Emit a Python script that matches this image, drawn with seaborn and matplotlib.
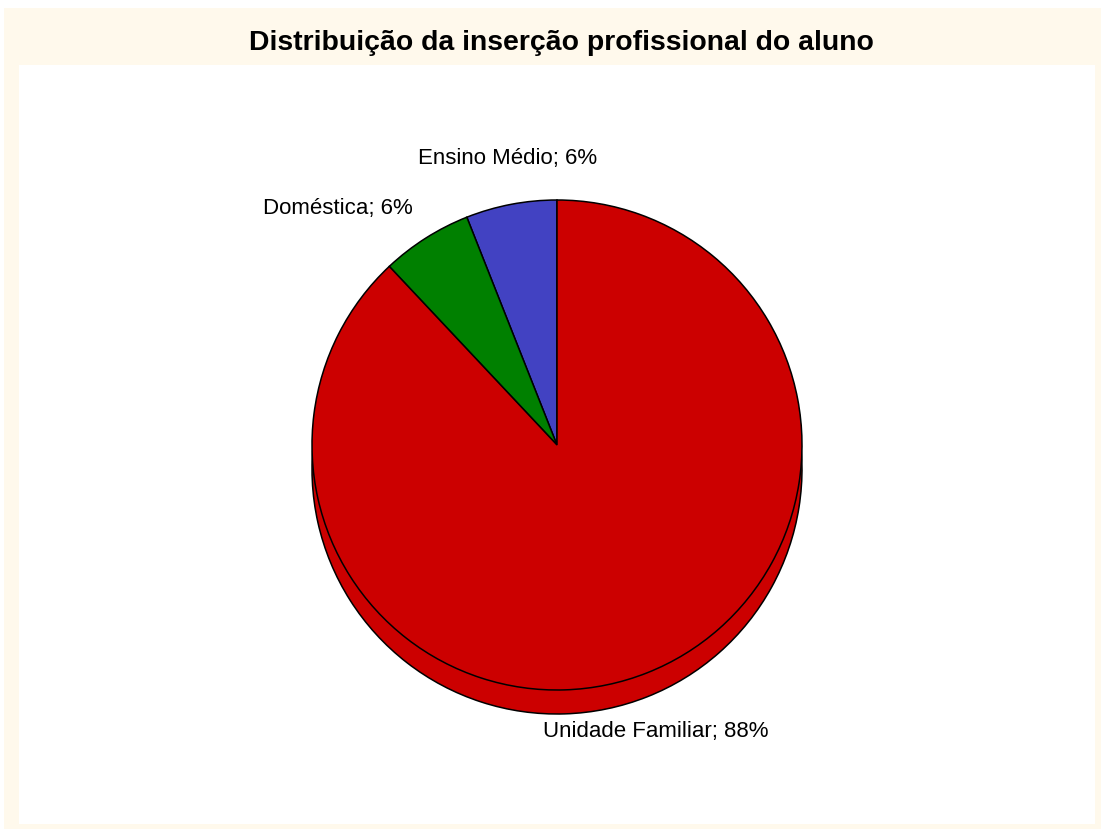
import seaborn as sns
import matplotlib.pyplot as plt
import numpy as np
from matplotlib.patches import Rectangle

# Data
categories = ["Unidade Familiar", "Doméstica", "Ensino Médio"]
shares = [88, 6, 6]
slice_colors = ["#CC0000", "#008000", "#4242C2"]
# label offsets (pixels) from the rim point at each slice's mid-angle
label_offsets = [(9, -59), (-88, 30), (-4, 46)]

sns.set_theme(style="white")
plt.rcParams["font.family"] = ["Liberation Sans", "DejaVu Sans"]

fig = plt.figure(figsize=(11.05, 8.31), dpi=100)
fig.patch.set_facecolor("white")

W, H = 1105, 831
# cream frame and white inner panel (kept behind the axes)
fig.patches.append(Rectangle((4 / W, 2 / H), 1097 / W, 821 / H, transform=fig.transFigure,
                             facecolor="#FFF9EC", edgecolor="none", zorder=-3))
fig.patches.append(Rectangle((19 / W, 7 / H), 1076 / W, 759 / H, transform=fig.transFigure,
                             facecolor="white", edgecolor="none", zorder=-2))

fig.text(0.5 + 9 / W, 1 - 43 / H, "Distribuição da inserção profissional do aluno",
         ha="center", va="center", fontsize=20.4, fontweight="bold", color="black")

R = 245.0
ax = fig.add_axes([(557 - 300) / W, (H - 445 - 300) / H, 600 / W, 600 / H])
ax.set_facecolor("none")
ax.set_zorder(1)
lim = 300 / R

# plot order: counterclockwise from the top -> Ensino Médio, Doméstica, Unidade Familiar
order = [2, 1, 0]
vals = [shares[i] for i in order]
cols = [slice_colors[i] for i in order]

wp = dict(edgecolor="black", linewidth=1.1)
# depth (3D side) drawn underneath
ax.pie(vals, colors=cols, startangle=90, counterclock=True, radius=1,
       center=(0, -24 / R), wedgeprops=wp, frame=True)
wedges, _ = ax.pie(vals, colors=cols, startangle=90, counterclock=True, radius=1,
                   center=(0, 0), wedgeprops=wp, frame=True)
ax.set_xlim(-lim, lim)
ax.set_ylim(-lim, lim)
ax.set_aspect("equal")
ax.axis("off")

for w, i in zip(wedges, order):
    theta = np.deg2rad((w.theta1 + w.theta2) / 2)
    dx, dy = label_offsets[i]
    ax.annotate(f"{categories[i]}; {shares[i]}%", xy=(np.cos(theta), np.sin(theta)),
                xytext=(dx, dy), textcoords="offset pixels",
                ha="center", va="center", fontsize=16, color="black")

fig.savefig("out.png", dpi=100, facecolor="white")
